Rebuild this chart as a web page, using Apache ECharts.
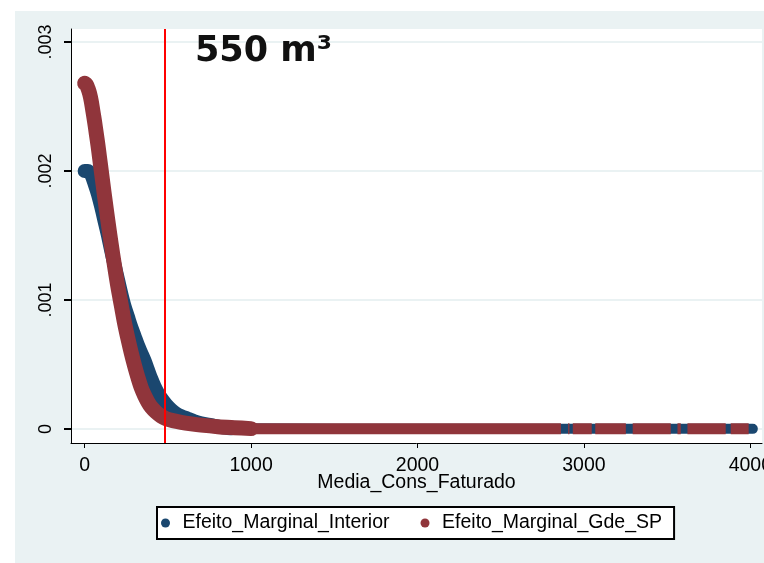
<!DOCTYPE html>
<html>
<head>
<meta charset="utf-8">
<script src="https://cdn.jsdelivr.net/npm/echarts@6/dist/echarts.min.js"></script>
<style>html,body{margin:0;padding:0;background:#fff;}#c{width:764px;height:563px;}</style>
</head>
<body>
<div id="c"></div>
<script>
// ---- data ----
const xTickValues = [0, 1000, 2000, 3000, 4000];
const xTickLabels = ['0', '1000', '2000', '3000', '4000'];
const yTickValues = [0, 0.001, 0.002, 0.003];
const yTickLabels = ['0', '.001', '.002', '.003'];
const xAxisName = 'Media_Cons_Faturado';
const seriesNames = ['Efeito_Marginal_Interior', 'Efeito_Marginal_Gde_SP'];
const annotationText = '550 m\u00B3';
const refLineX = 480;

const interiorX = [0, 20, 40, 60, 80, 100, 120, 140, 160, 180, 200, 220, 240, 260, 280, 300, 320, 340, 360, 380, 400, 420, 440, 460, 490, 520, 550, 580, 620, 660, 700, 760, 820, 880];
const interiorY = [0.00200, 0.00200, 0.00197, 0.00190, 0.00182, 0.00172, 0.00161, 0.00150, 0.00138, 0.00127, 0.00116, 0.00105, 0.00095, 0.00087, 0.00079, 0.00072, 0.00065, 0.00059, 0.00053, 0.00046, 0.00039, 0.00033, 0.00028, 0.00024, 0.00019, 0.00015, 0.00012, 0.00010, 0.00008, 0.00006, 0.000045, 0.00003, 0.000015, 0.000005];
const interiorTailX = [880, 1500, 2500, 3500, 4015];
const interiorTailY = [0.000005, 0.000002, 0.000001, 0.000001, 0.000001];

const gdeSpX = [0, 10, 20, 30, 40, 50, 60, 70, 80, 90, 100, 110, 120, 140, 160, 180, 200, 220, 240, 260, 280, 300, 320, 340, 360, 380, 400, 430, 460, 490, 530, 580, 640, 700, 800, 900, 1000];
const gdeSpY = [0.00268, 0.00267, 0.00264, 0.00260, 0.00254, 0.00246, 0.00238, 0.00229, 0.00220, 0.00210, 0.00200, 0.00190, 0.00180, 0.00161, 0.00143, 0.00126, 0.00110, 0.00096, 0.00082, 0.00070, 0.00059, 0.00049, 0.00040, 0.00032, 0.00026, 0.00021, 0.00017, 0.00013, 0.00010, 0.00008, 0.000065, 0.000052, 0.00004, 0.00003, 0.000018, 0.00001, 0.000003];
const gdeSpTailSegments = [[1000, 2862], [2905, 2913], [2933, 3047], [3068, 3252], [3293, 3522], [3562, 3582], [3622, 3852], [3882, 3990]];
const gdeSpTailValue = 0.000002;

// ---- build ----
const FONT = "'Liberation Sans', Arial, sans-serif";
const BLUE = '#1a476f';
const RED = '#90353b';
const zip = (xs, ys) => xs.map((x, i) => [x, ys[i]]);
const nearestLabel = (vals, labels, v) => {
  let best = 0;
  vals.forEach((t, i) => { if (Math.abs(t - v) < Math.abs(vals[best] - v)) best = i; });
  return labels[best];
};
const tailData = [];
gdeSpTailSegments.forEach((s, i) => {
  if (i > 0) tailData.push([null, null]);
  tailData.push([s[0], gdeSpTailValue], [s[1], gdeSpTailValue]);
});

const chart = echarts.init(document.getElementById('c'), null, {renderer: 'canvas'});
chart.setOption({
  animation: false,
  backgroundColor: '#ffffff',
  graphic: [
    {type: 'rect', left: 15, top: 11, z: -10, silent: true,
     shape: {width: 749, height: 552}, style: {fill: '#eaf2f3'}},
    {type: 'text', left: 195, top: 34, z: 100, silent: true,
     style: {text: annotationText, font: "bold 35px 'DejaVu Sans'", fill: '#111'}}
  ],
  grid: {left: 71, top: 29, right: 2, bottom: 120, containLabel: false, outerBoundsMode: 'none',
         show: true, backgroundColor: '#ffffff', borderWidth: 0, borderColor: 'transparent'},
  xAxis: {
    type: 'value', min: -82, max: 4070,
    axisLine: {show: true, onZero: false, lineStyle: {color: '#000', width: 1}},
    axisTick: {show: true, customValues: xTickValues, length: 5, lineStyle: {color: '#000', width: 1}},
    axisLabel: {customValues: xTickValues, fontSize: 19.5, fontFamily: FONT, color: '#000', margin: 13,
      hideOverlap: false, formatter: v => nearestLabel(xTickValues, xTickLabels, v)},
    splitLine: {show: false},
    name: xAxisName, nameLocation: 'middle', nameGap: 30, nameMoveOverlap: false,
    nameTextStyle: {fontSize: 19.5, fontFamily: FONT, color: '#000'}
  },
  yAxis: {
    type: 'value', min: -0.0001085, max: 0.0031008,
    axisLine: {show: true, onZero: false, lineStyle: {color: '#000', width: 1}},
    axisTick: {show: true, customValues: yTickValues, length: 7, lineStyle: {color: '#000', width: 2}},
    axisLabel: {customValues: yTickValues, rotate: 90, fontSize: 18, fontFamily: FONT, color: '#000', margin: 16,
      formatter: v => nearestLabel(yTickValues, yTickLabels, v)},
    splitLine: {show: true, lineStyle: {color: '#eaf2f3', width: 2}}
  },
  legend: {
    left: 157, top: 507, orient: 'horizontal',
    padding: [6, 12, 6, 4], backgroundColor: '#ffffff', borderColor: '#000', borderWidth: 2, borderRadius: 0,
    itemWidth: 24, itemHeight: 9, itemGap: 31, icon: 'circle',
    textStyle: {fontSize: 19.5, fontFamily: FONT, color: '#000'},
    data: seriesNames
  },
  series: [
    {name: seriesNames[0], type: 'line', data: zip(interiorX, interiorY), showSymbol: false, silent: true,
     smooth: 0.3, itemStyle: {color: BLUE}, lineStyle: {color: BLUE, width: 14, cap: 'round', join: 'round'}},
    {name: seriesNames[0], type: 'line', data: zip(interiorTailX, interiorTailY), showSymbol: false, silent: true,
     itemStyle: {color: BLUE}, lineStyle: {color: BLUE, width: 10, cap: 'round', join: 'round'}},
    {name: seriesNames[1], type: 'line', data: zip(gdeSpX, gdeSpY), showSymbol: false, silent: true,
     smooth: 0.3, itemStyle: {color: RED}, lineStyle: {color: RED, width: 15, cap: 'round', join: 'round'}},
    {name: seriesNames[1], type: 'line', data: tailData, showSymbol: false, silent: true, connectNulls: false,
     itemStyle: {color: RED}, lineStyle: {color: RED, width: 11, cap: 'butt', join: 'round'},
     markLine: {silent: true, symbol: 'none', label: {show: false}, animation: false,
       lineStyle: {color: '#ff0000', width: 2, type: 'solid'},
       data: [{xAxis: refLineX}]}}
  ]
});
</script>
</body>
</html>
